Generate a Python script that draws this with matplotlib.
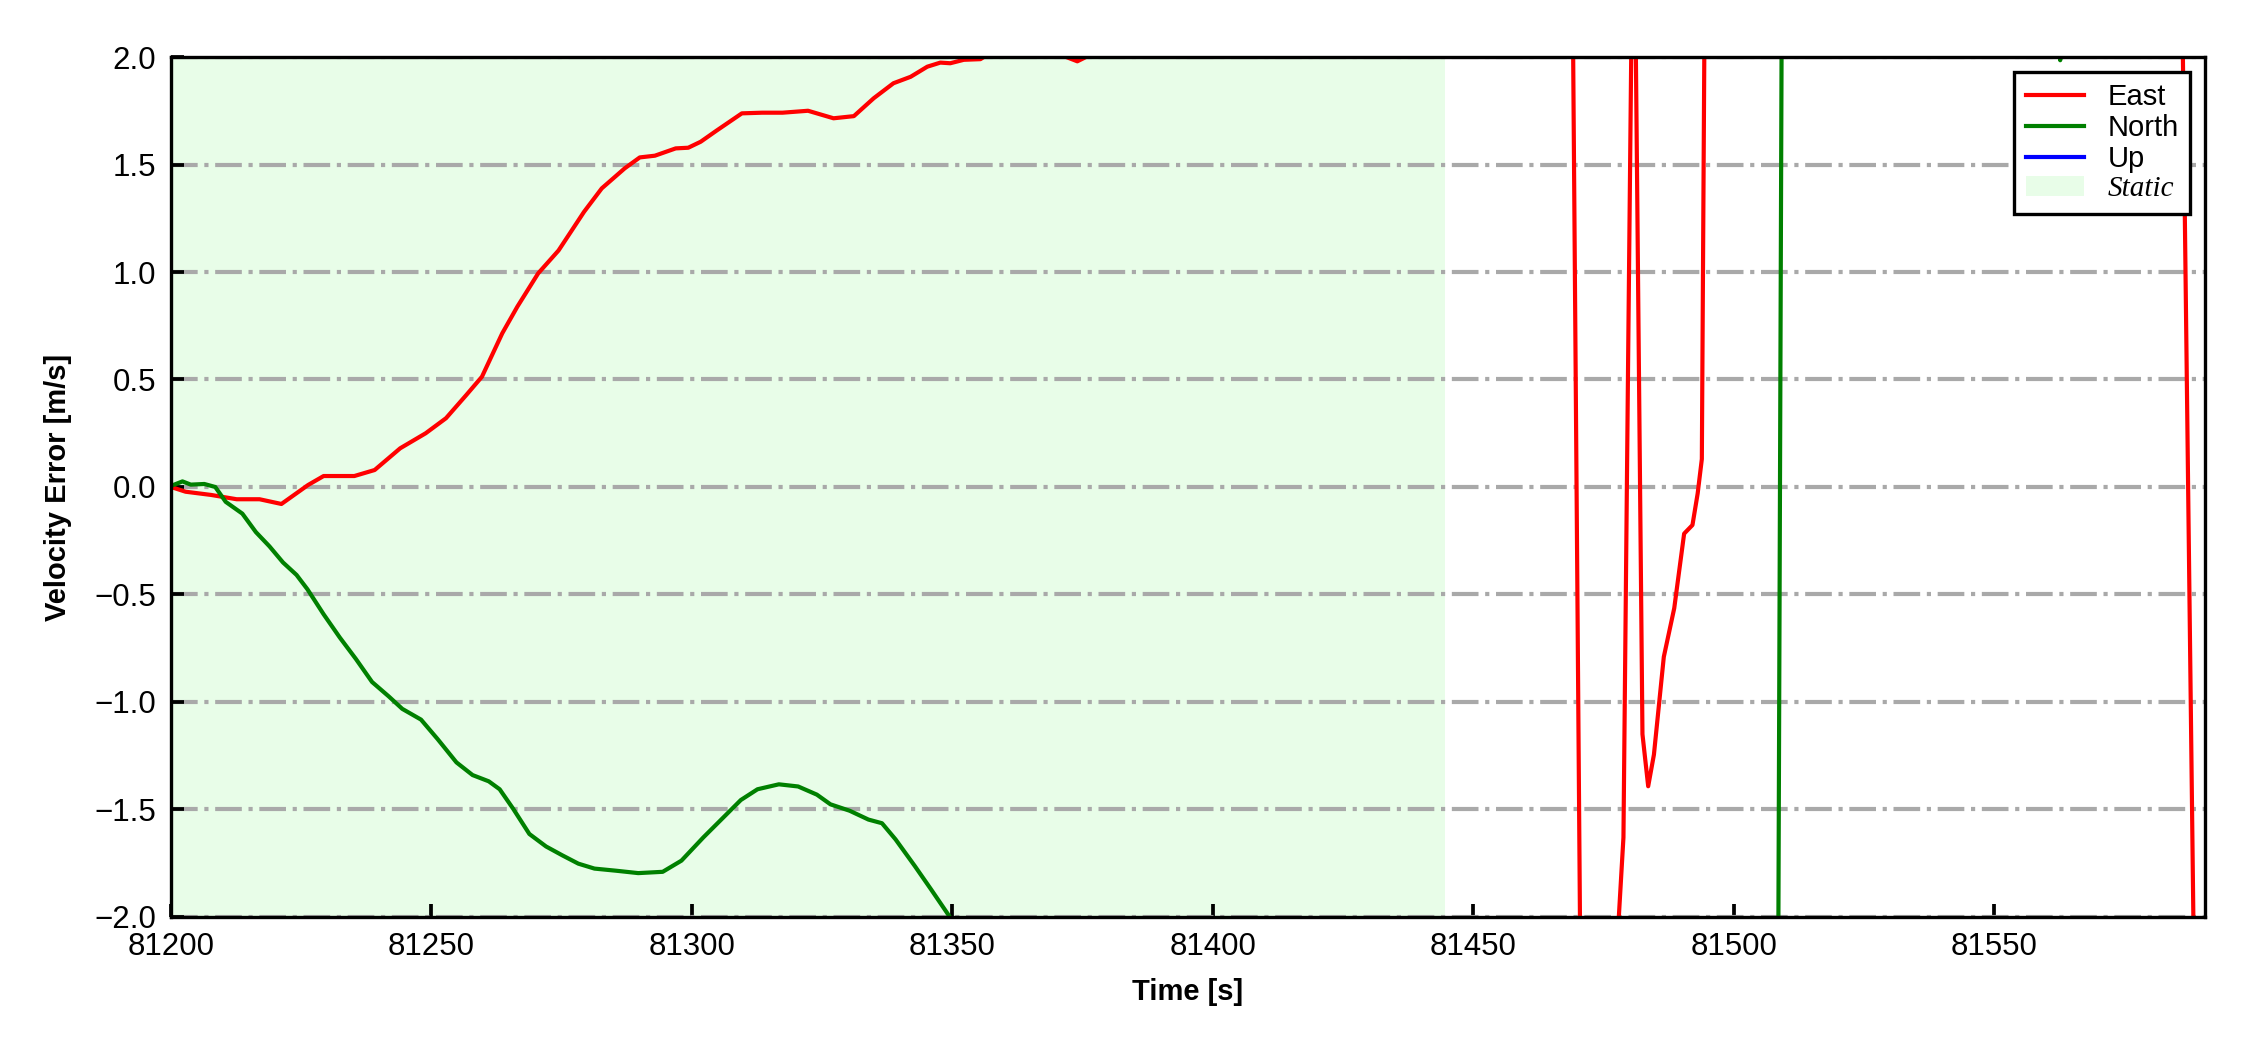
import numpy as np
import matplotlib
matplotlib.use("Agg")
import matplotlib.pyplot as plt

# -----------------------------
# 0) Data (read off the reference plot)
# -----------------------------
east_t = [81200.0, 81202.8, 81207.7, 81212.6, 81217.0, 81221.2, 81226.3, 81229.3, 81235.2, 81239.1,
          81244.0, 81248.9, 81252.8, 81256.7, 81259.7, 81263.6, 81266.5, 81270.5, 81274.4, 81279.3,
          81282.7, 81287.1, 81290.0, 81292.9, 81296.9, 81299.3, 81301.7, 81304.7, 81309.6, 81313.5,
          81317.4, 81322.3, 81327.2, 81331.1, 81334.9, 81338.7, 81342.0, 81345.2, 81347.7, 81349.6,
          81352.2, 81355.4, 81358.0, 81365.0, 81370.8, 81374.0, 81376.5, 81380.0, 81400.0, 81440.0,
          81468.5, 81471.0, 81475.0, 81477.0, 81478.85, 81479.7, 81480.8, 81482.5, 81483.6, 81484.7,
          81486.6, 81488.6, 81490.5, 81492.1, 81493.1, 81493.9, 81495.0, 81520.0, 81560.0, 81585.0,
          81590.5]
east_v = [0.0, -0.022, -0.037, -0.057, -0.057, -0.079, 0.009, 0.051, 0.051, 0.079,
          0.18, 0.25, 0.32, 0.428, 0.513, 0.715, 0.839, 0.994, 1.10, 1.28,
          1.389, 1.482, 1.533, 1.541, 1.575, 1.578, 1.606, 1.657, 1.738, 1.741,
          1.741, 1.750, 1.715, 1.725, 1.808, 1.878, 1.908, 1.955, 1.974, 1.971,
          1.987, 1.99, 2.03, 2.05, 2.01, 1.98, 2.01, 2.15, 2.8, 3.6,
          4.15, -3.54, -4.2, -2.4, -1.63, 0.477, 3.1, -1.15, -1.392, -1.245,
          -0.79, -0.564, -0.217, -0.177, -0.03, 0.13, 4.5, 6.0, 6.5, 4.5,
          -6.45]

north_t = [81200.0, 81202.2, 81203.8, 81206.4, 81208.5, 81210.5, 81213.7, 81216.3, 81218.9, 81221.5,
           81224.1, 81226.2, 81229.3, 81232.4, 81235.5, 81238.6, 81241.8, 81244.4, 81248.0, 81251.2,
           81254.8, 81257.9, 81261.0, 81263.1, 81265.7, 81268.8, 81272.0, 81275.1, 81278.2, 81281.3,
           81285.5, 81289.7, 81294.4, 81298.0, 81302.2, 81306.3, 81309.4, 81312.6, 81316.7, 81320.4,
           81324.0, 81326.6, 81330.3, 81333.9, 81336.5, 81339.1, 81342.8, 81345.9, 81349.5, 81355.0,
           81400.0, 81460.0, 81508.0, 81510.0, 81530.0, 81562.0, 81562.7, 81563.4, 81580.0, 81590.5]
north_v = [0.005, 0.026, 0.011, 0.014, 0.0, -0.069, -0.124, -0.21, -0.276, -0.351,
           -0.409, -0.476, -0.592, -0.70, -0.80, -0.907, -0.974, -1.032, -1.082, -1.173,
           -1.281, -1.34, -1.369, -1.406, -1.497, -1.614, -1.672, -1.713, -1.752, -1.775,
           -1.785, -1.796, -1.79, -1.738, -1.63, -1.531, -1.456, -1.406, -1.383, -1.393,
           -1.431, -1.476, -1.506, -1.547, -1.564, -1.639, -1.763, -1.871, -1.999, -2.4,
           -3.5, -4.5, -6.0, 7.3, 4.0, 2.6, 1.985, 2.6, 4.5, 5.0]

# Up error never shows inside the plotted range
up_t = []
up_v = []

static_start, static_end = 81200.0, 81444.5
x_range = (81200.0, 81590.5)
y_range = (-2.0, 2.0)
y_ticks = [-2.0, -1.5, -1.0, -0.5, 0.0, 0.5, 1.0, 1.5, 2.0]
x_ticks = [81200, 81250, 81300, 81350, 81400, 81450, 81500, 81550]

# -----------------------------
# 1) Plot
# -----------------------------
plt.rcParams["font.family"] = ["Liberation Sans", "DejaVu Sans"]

fig, ax = plt.subplots(figsize=(7.5, 3.5), dpi=300)
fig.subplots_adjust(left=0.076, right=0.98, top=0.9457, bottom=0.1267)

ax.axvspan(static_start, static_end, facecolor="#e8fde8", edgecolor="none", label="Static", zorder=0)
ax.plot(east_t, east_v, color="red", lw=1.0, label="East")
ax.plot(north_t, north_v, color="green", lw=1.0, label="North")
ax.plot(up_t, up_v, color="blue", lw=1.0, label="Up")

ax.set_xlim(*x_range)
ax.set_ylim(*y_range)
ax.set_xticks(x_ticks)
ax.set_yticks(y_ticks)
ax.xaxis.set_major_formatter(matplotlib.ticker.FormatStrFormatter("%d"))

ax.yaxis.grid(True, linestyle="-.", color="darkgray", lw=1.0)
ax.set_axisbelow(True)

ax.tick_params(direction="in", length=3.2, width=0.9, labelsize=7.5, top=False, right=False)
for s in ax.spines.values():
    s.set_linewidth(0.8)

ax.set_xlabel("Time [s]", fontsize=7, fontweight="bold", labelpad=4)
ax.set_ylabel("Velocity Error [m/s]", fontsize=7, fontweight="bold", labelpad=5.5)

# legend: East, North, Up, Static
h, l = ax.get_legend_handles_labels()
order = [l.index(n) for n in ["East", "North", "Up", "Static"]]
leg = ax.legend([h[i] for i in order], [l[i] for i in order], loc="upper right",
                fontsize=7, fancybox=False, framealpha=1, edgecolor="black",
                labelspacing=0.1, borderpad=0.4)
leg.get_frame().set_linewidth(0.8)
leg.get_texts()[3].set_fontfamily("Liberation Serif")
leg.get_texts()[3].set_fontstyle("italic")

fig.savefig("out.png", dpi=300)
